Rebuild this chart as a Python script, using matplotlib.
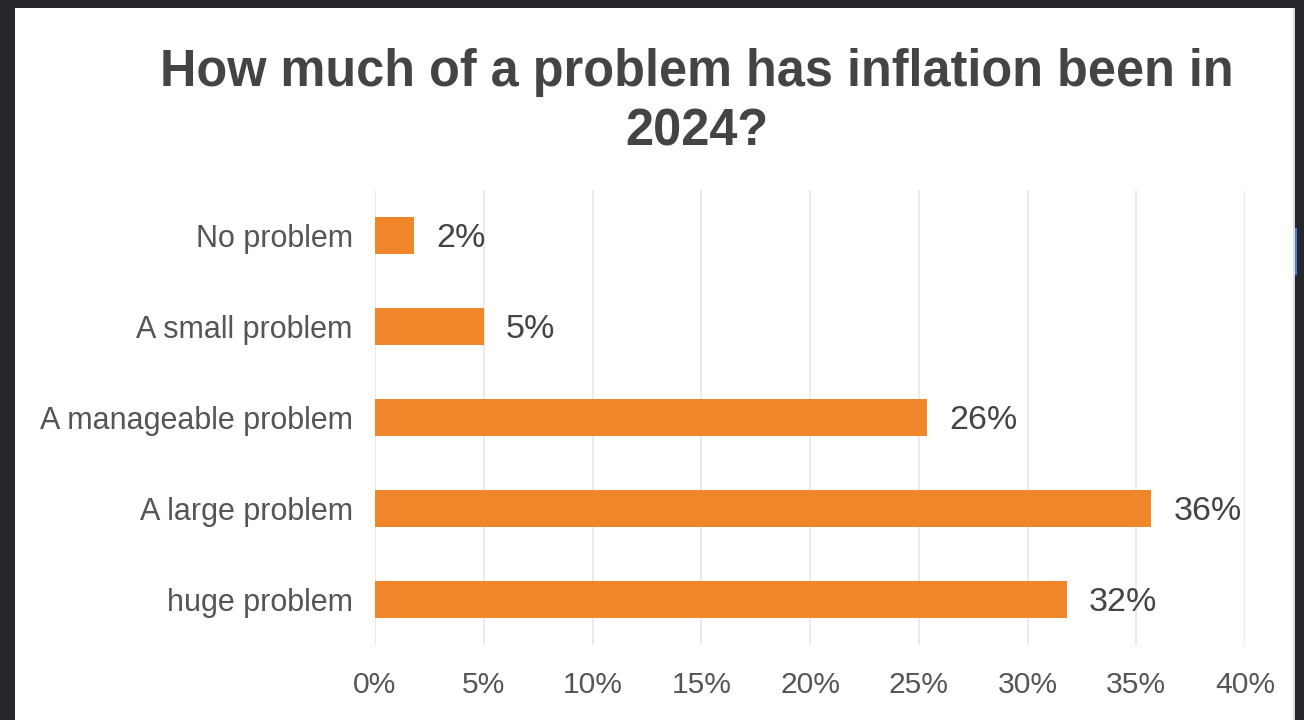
import matplotlib.pyplot as plt
from matplotlib.patches import Rectangle

# Survey data
categories = ['No problem', 'A small problem', 'A manageable problem', 'A large problem', 'huge problem']
shares = [1.8, 5.0, 25.4, 35.7, 31.8]
share_labels = ['2%', '5%', '26%', '36%', '32%']
xticks = [0, 5, 10, 15, 20, 25, 30, 35, 40]

plt.rcParams['font.family'] = ['Liberation Sans', 'DejaVu Sans']

W, H = 1304, 720
fig = plt.figure(figsize=(W / 100, H / 100), dpi=100, facecolor='#26272b')

# white card inside the dark screenshot frame
fig.patches.append(Rectangle((15 / W, 0), (1293 - 15) / W, (H - 8) / H,
                             transform=fig.transFigure, facecolor='white',
                             edgecolor='none', zorder=-2))
fig.patches.append(Rectangle((1293 / W, 0), 2 / W, (H - 8) / H,
                             transform=fig.transFigure, facecolor='#d8dbe0',
                             edgecolor='none', zorder=-2))
fig.patches.append(Rectangle((1295 / W, 1 - 275 / H), 2 / W, 47 / H,
                             transform=fig.transFigure, facecolor='#4a7fe0',
                             edgecolor='none', zorder=-2))

ax = fig.add_axes([375 / W, 75 / H, 870 / W, 455 / H])
ax.set_facecolor('none')

ypos = list(range(len(categories)))
ax.barh(ypos, shares, height=0.4, color='#f0862a', zorder=2)
for y, v, lab in zip(ypos, shares, share_labels):
    ax.text(v + 1.0, y + 0.03, lab, va='center', ha='left', fontsize=24.5, color='#444444')

ax.set_xlim(0, 40)
ax.set_ylim(len(categories) - 0.5, -0.5)
ax.set_yticks(ypos)
ax.set_yticklabels(categories)
ax.set_xticks(xticks)
ax.set_xticklabels([f'{t}%' for t in xticks])
ax.tick_params(axis='y', length=0, pad=16, labelsize=22, labelcolor='#555555')
ax.tick_params(axis='x', length=0, pad=19, labelsize=21.6, labelcolor='#555555')
ax.grid(axis='x', color='#e6e6e6', linewidth=1.2, zorder=0)
for s in ax.spines.values():
    s.set_visible(False)

fig.text(697 / W, 1 - 102 / H, 'How much of a problem has inflation been in\n2024?',
         ha='center', va='center', fontsize=36.4, fontweight='bold', color='#444444',
         linespacing=1.28)

fig.savefig('out.png', dpi=100, facecolor=fig.get_facecolor())
